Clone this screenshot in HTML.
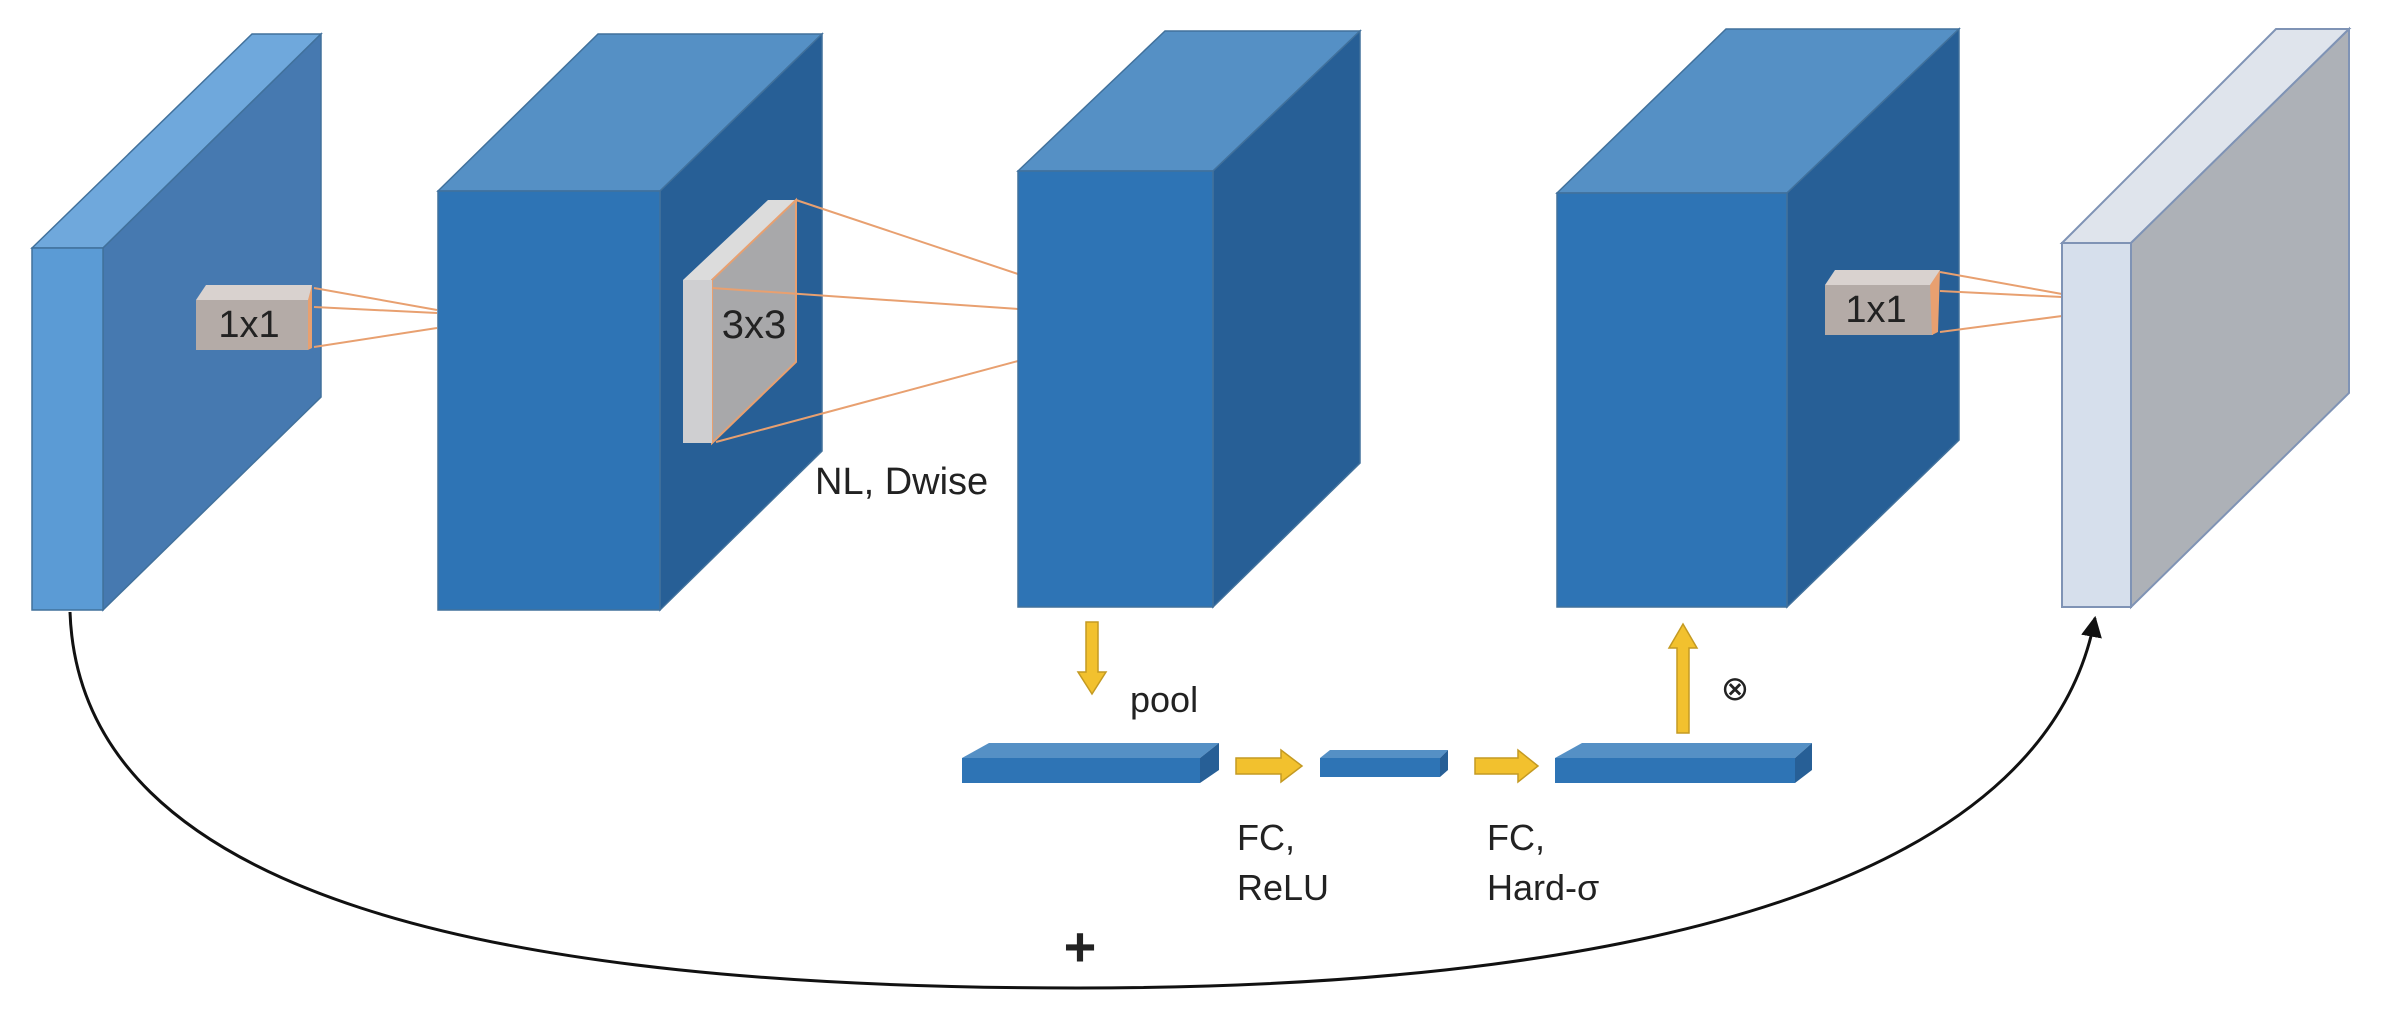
<!DOCTYPE html>
<html><head><meta charset="utf-8"><style>
html,body{margin:0;padding:0;background:#fff;width:2386px;height:1030px;overflow:hidden}
svg{display:block}
text{font-family:"Liberation Sans",sans-serif;fill:#222}
</style></head><body>
<svg width="2386" height="1030" viewBox="0 0 2386 1030" xmlns="http://www.w3.org/2000/svg">
<defs>
<marker id="ah" viewBox="0 0 10 10" refX="9" refY="5" markerWidth="7" markerHeight="7" orient="auto"><path d="M0,0 L10,5 L0,10 z" fill="#111"/></marker>
</defs>
<path d="M70,612 C80,900 500,988 1078,988 C1700,988 2050,860 2095,618" fill="none" stroke="#111" stroke-width="3" marker-end="url(#ah)"/>

<polygon points="32,248 252,34 321,34 103,248" fill="#6fa8dc" stroke="#41719c" stroke-width="1.5"/>
<polygon points="103,248 321,34 321,397 103,610" fill="#4679b0" stroke="#41719c" stroke-width="1.5"/>
<rect x="32" y="248" width="71" height="362" fill="#5b9bd5" stroke="#41719c" stroke-width="1.5"/>
<polygon points="196,300 206,285 312,285 310,300" fill="#d9d2cf"/>
<rect x="196" y="300" width="112" height="50" fill="#b4aba7"/>
<polygon points="308,300 312,285 312,348 308,350" fill="#e8a070"/>
<text x="249" y="337" font-size="38" text-anchor="middle">1x1</text>
<g stroke="#e8a070" stroke-width="2">
<line x1="314" y1="288" x2="437" y2="310"/><line x1="314" y1="307" x2="437" y2="313"/><line x1="314" y1="347" x2="437" y2="328"/>
</g>

<polygon points="438,191 598,34 822,34 660,191" fill="#5590c5" stroke="#41719c" stroke-width="1.5"/>
<polygon points="660,191 822,34 822,451 660,610" fill="#275f96" stroke="#41719c" stroke-width="1.5"/>
<rect x="438" y="191" width="222" height="419" fill="#2e74b5" stroke="#41719c" stroke-width="1.5"/>
<polygon points="683,280 768,200 796,200 712,280" fill="#dcdcdc"/>
<polygon points="712,280 796,200 796,362 712,443" fill="#a8a8aa" stroke="#e8a070" stroke-width="2"/>
<rect x="683" y="280" width="29" height="163" fill="#cfcfd1"/>
<text x="754" y="338" font-size="40" text-anchor="middle">3x3</text>
<g stroke="#e8a070" stroke-width="2">
<line x1="796" y1="200" x2="1018" y2="274"/><line x1="712" y1="288" x2="1018" y2="309"/><line x1="716" y1="442" x2="1018" y2="361"/>
</g>
<text x="815" y="494" font-size="38">NL, Dwise</text>

<polygon points="1018,171 1165,31 1360,31 1213,171" fill="#5590c5" stroke="#41719c" stroke-width="1.5"/>
<polygon points="1213,171 1360,31 1360,463 1213,607" fill="#275f96" stroke="#41719c" stroke-width="1.5"/>
<rect x="1018" y="171" width="195" height="436" fill="#2e74b5" stroke="#41719c" stroke-width="1.5"/>

<polygon points="1557,193 1726,29 1959,29 1787,193" fill="#5590c5" stroke="#41719c" stroke-width="1.5"/>
<polygon points="1787,193 1959,29 1959,440 1787,607" fill="#275f96" stroke="#41719c" stroke-width="1.5"/>
<rect x="1557" y="193" width="230" height="414" fill="#2e74b5" stroke="#41719c" stroke-width="1.5"/>
<polygon points="1825,285 1835,270 1940,270 1932,285" fill="#d9d2cf"/>
<rect x="1825" y="285" width="108" height="50" fill="#b4aba7"/>
<polygon points="1930,285 1940,270 1938,332 1932,335" fill="#e8a070"/>
<text x="1876" y="322" font-size="38" text-anchor="middle">1x1</text>
<g stroke="#e8a070" stroke-width="2">
<line x1="1940" y1="272" x2="2062" y2="294"/><line x1="1940" y1="291" x2="2062" y2="297"/><line x1="1940" y1="332" x2="2062" y2="316"/>
</g>

<polygon points="2062,243 2276,29 2349,29 2131,243" fill="#dfe4ec" stroke="#7f93b5" stroke-width="2"/>
<polygon points="2131,243 2349,29 2349,393 2131,607" fill="#adb1b7" stroke="#7f93b5" stroke-width="2"/>
<rect x="2062" y="243" width="69" height="364" fill="#d6dfec" stroke="#7f93b5" stroke-width="2"/>

<polygon points="1086,622 1098,622 1098,672 1106,672 1092,694 1078,672 1086,672" fill="#f2c12e" stroke="#c49a22" stroke-width="1.5"/>
<text x="1130" y="712" font-size="36">pool</text>

<polygon points="962,758 989,743 1219,743 1200,758" fill="#5590c5"/>
<polygon points="1200,758 1219,743 1219,770 1200,783" fill="#275f96"/>
<rect x="962" y="758" width="238" height="25" fill="#2e74b5"/>

<polygon points="1320,758 1330,750 1448,750 1440,758" fill="#5590c5"/>
<polygon points="1440,758 1448,750 1448,770 1440,777" fill="#275f96"/>
<rect x="1320" y="758" width="120" height="19" fill="#2e74b5"/>

<polygon points="1555,758 1582,743 1812,743 1795,758" fill="#5590c5"/>
<polygon points="1795,758 1812,743 1812,770 1795,783" fill="#275f96"/>
<rect x="1555" y="758" width="240" height="25" fill="#2e74b5"/>

<polygon points="1236,758 1281,758 1281,750 1302,766 1281,782 1281,774 1236,774" fill="#f2c12e" stroke="#c49a22" stroke-width="1.5"/>
<polygon points="1475,758 1518,758 1518,750 1538,766 1518,782 1518,774 1475,774" fill="#f2c12e" stroke="#c49a22" stroke-width="1.5"/>

<polygon points="1677,733 1689,733 1689,648 1697,648 1683,624 1669,648 1677,648" fill="#f2c12e" stroke="#c49a22" stroke-width="1.5"/>
<text x="1735" y="700" font-size="34" text-anchor="middle">⊗</text>

<text x="1237" y="850" font-size="36">FC,</text>
<text x="1237" y="900" font-size="36">ReLU</text>
<text x="1487" y="850" font-size="36">FC,</text>
<text x="1487" y="900" font-size="36">Hard-σ</text>
<text x="1080" y="966" font-size="56" font-weight="bold" text-anchor="middle">+</text>
</svg>
</body></html>
